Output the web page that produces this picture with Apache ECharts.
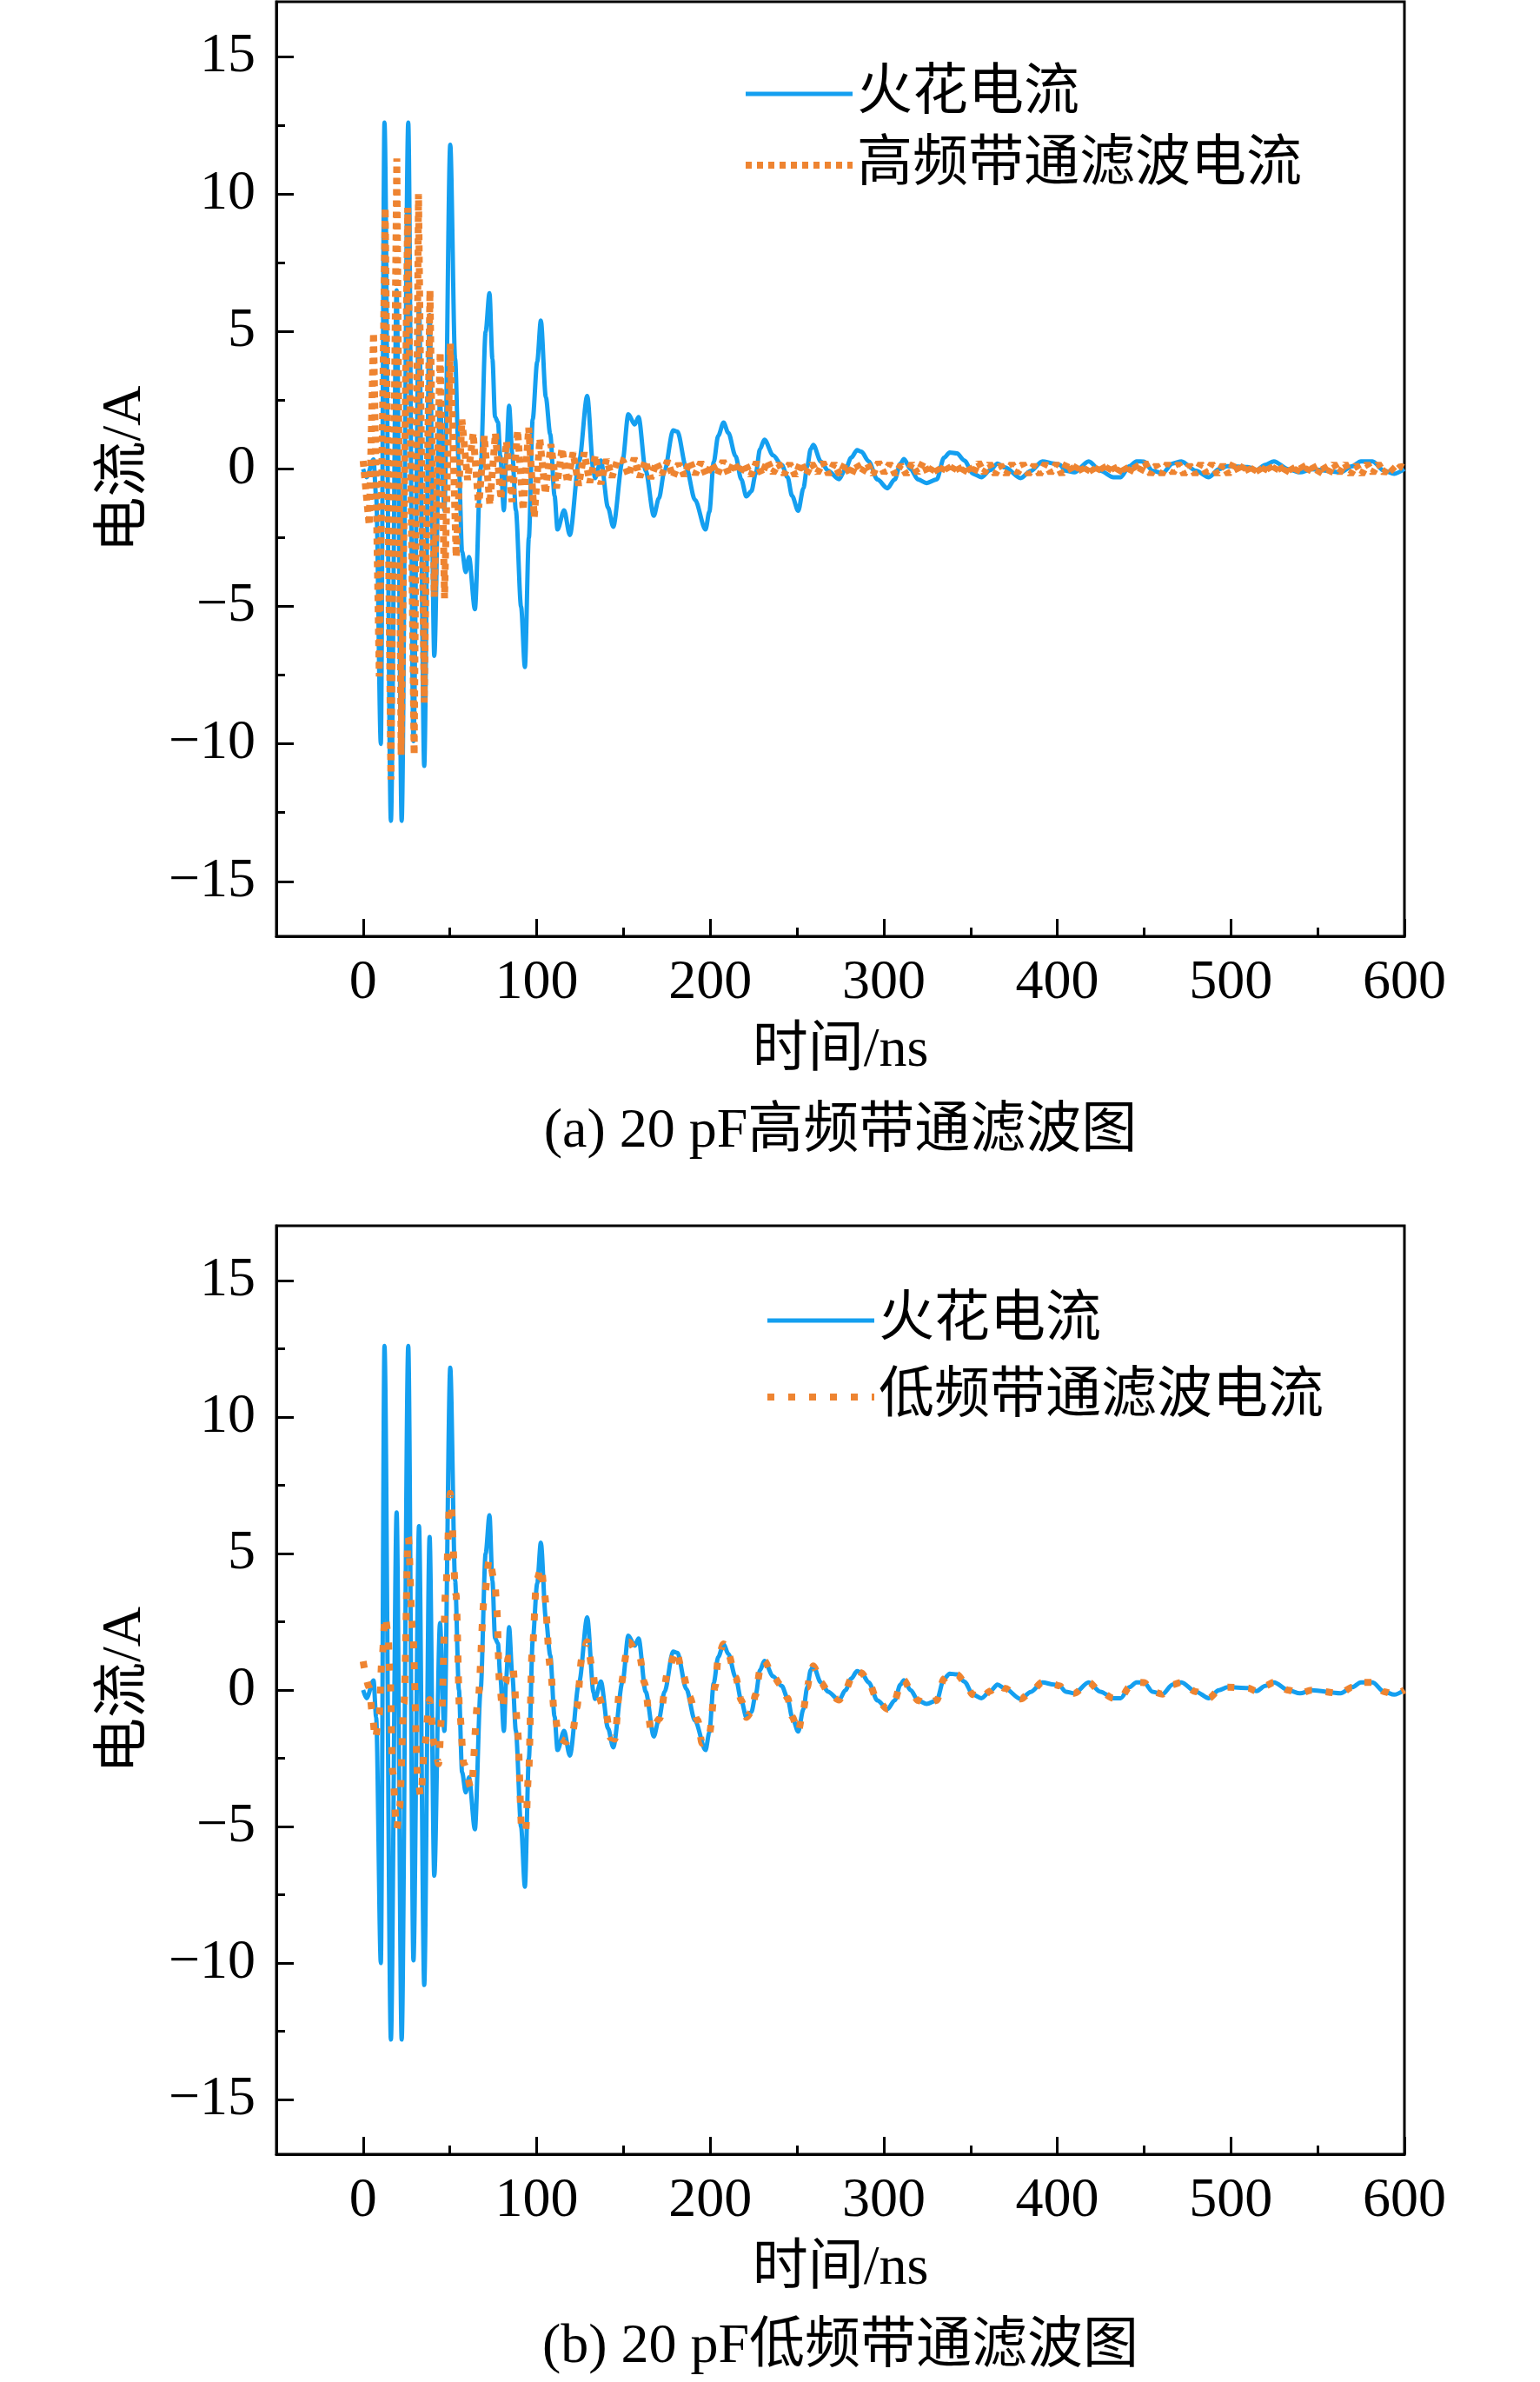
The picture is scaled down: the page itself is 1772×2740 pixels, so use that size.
<!DOCTYPE html>
<html>
<head>
<meta charset="utf-8">
<script src="https://cdn.jsdelivr.net/npm/echarts@6/dist/echarts.min.js"></script>
<style>
  html, body { margin: 0; padding: 0; background: #fff; }
  #main { width: 1772px; height: 2740px; }
</style>
</head>
<body>
<div id="main"></div>
<script>
// 火花电流 (时间 ns, 电流 A)
var sparkT = [0, 2, 6, 7.5, 10.2, 12.3, 16, 19.3, 22.2, 26, 29, 32.2, 35.2, 38.3, 41, 44.3, 46.8, 50.2,
  53, 55.2, 57, 59.1, 61, 64.4, 67.7, 70.6, 72.8, 74.5, 76, 77.7, 79, 81.1, 82.5, 84.1, 86, 88, 91, 93.2,
  95.5, 97.7, 100.3, 102.4, 105.3, 107.8, 110.3, 112, 115.8, 119.1, 124.5, 129.1, 132.8, 133.6, 137,
  141.1, 144.1, 149.5, 152.8, 156.5, 158.7, 162.8, 167.5, 170.4, 173.7, 178.6, 181.1, 186.2, 191.2,
  197.3, 199.5, 202, 204.6, 207.7, 210.4, 214.6, 217.9, 220.8, 223.7, 226.2, 228.7, 231.2, 236.2,
  241.2, 244.6, 247.1, 250.7, 253.7, 255.9, 257.9, 259.4, 263.7, 267.9, 274.2, 277.9, 281.3, 284.6,
  287.1, 291.3, 296.3, 302.1, 306.3, 309.6, 311.6, 315.5, 319.7, 324.7, 330.5, 334.7, 338, 342.2,
  346.4, 351.4, 356.2, 361.4, 365.5, 369.7, 378.9, 384.7, 391.4, 398.1, 401.4, 404.8, 409.8, 418.1,
  424.8, 432.3, 436.5, 441.5, 445.6, 450, 454.8, 460.6, 466.4, 471.5, 479.8, 487.3, 493.1, 498.1,
  509.8, 514.8, 519.8, 524.8, 533.2, 539.8, 546.5, 563.2, 569.9, 574.9, 581.6, 588.3, 594.1, 600];
var sparkV = [0, -0.3, 0.35, -1, -10, 12.6, -12.8, 6.5, -12.8, 12.6, -9.9, 6, -10.8, 5.6, -6.8, 2.45, -1.5, 11.8,
  4, 0, -3, -3.75, -3.2, -5.1, 0, 5, 6.4, 4, 1.9, 1.7, 0.5, -1.5, 0.5, 2.3, 0.5, -1.5, -5, -7.2,
  -2.5, 1.8, 3.9, 5.4, 2.6, 1.27, -0.97, -2.2, -1.5, -2.4, 0.3, 2.66, -0.1, -0.33, 0.31,
  -1.4, -2.1, 0.3, 1.99, 1.62, 1.89, -0.06, -1.7, -1.07, -0.06, 1.41, 1.36, 0.04, -1.12,
  -2.2, -1.55, 0.25, 1.21, 1.69, 1.32, 0.47, -0.38, -1, -0.81, -0.17, 0.73, 1.07, 0.5,
  0.15, -0.3, -0.97, -1.52, -0.7, 0.1, 0.73, 0.88, 0.28, -0.06, -0.37, -0.01, 0.42, 0.69,
  0.63, 0.28, -0.38, -0.7, -0.38, 0.2, 0.36, -0.01, -0.38, -0.51, -0.38, 0.41, 0.6, 0.57,
  0.31, -0.17, -0.3, -0.04, 0.2, 0.06, -0.33, -0.07, 0.28, 0.2, 0.15, -0.06, -0.12, 0.28,
  -0.06, -0.3, -0.3, 0.1, 0.28, 0.27, -0.06, -0.15, 0.2, 0.28, -0.06, -0.3, -0.01, 0.1,
  0.07, -0.04, 0.15, 0.28, -0.01, -0.12, -0.01, -0.12, 0.1, 0.28, 0.28, -0.06, -0.17, 0];

// 高频带通滤波电流: 峰谷点
var hfT = [0, 3.5, 6, 9.3, 12.7, 16, 19.4, 21.9, 25.7, 29.4, 31.9, 35.2, 38.5, 41, 44.4, 46.9, 50.2, 53.6,
  56.9, 60.2, 63.4, 66.6, 69.8, 73, 76.2, 79.4, 82.6, 85.8, 89, 92.2, 95.4, 98.6, 101.8, 105, 108.2,
  111.4, 114.6, 117.8, 121, 124.2, 127.4, 130.6, 133.8, 137, 140.2, 143.4, 146.6];
var hfV = [0.3, -2.05, 4.96, -7.55, 9.5, -11.3, 11.3, -10.4, 9.5, -10.4, 10, -8.5, 6.5, -4.65, 4.25, -4.7, 4.56, -3.2,
  1.8, -0.4, 1.3, -1.4, 1.2, -1.3, 1.3, -1.1, 1, -1.2, 1.4, -1.5, 1.5, -1.75, 1.1, -0.9, 0.9,
  -0.7, 0.75, -0.5, 0.6, -0.6, 0.6, -0.5, 0.5, -0.55, 0.35, -0.3, 0.35];
// 尾段 (从 149.8 ns 起, 每 3.2 ns 一个峰/谷)
var hfTailStart = 149.8, hfTailStep = 3.2;
var hfTailV = [0.3, -0.25, 0.4, -0.3, 0.3, -0.35, 0.25, -0.2, 0.3, -0.3, 0.2, -0.25, 0.3, -0.2, 0.25, -0.25,
  0.2, -0.2, 0.3, -0.2, 0.25, -0.15, 0.2, -0.25, 0.25, -0.2, 0.3, -0.15, 0.2, -0.2, 0.2, -0.25, 0.25, -0.2,
  0.2, -0.15, 0.25, -0.2, 0.2, -0.2, 0.2, -0.25, 0.2, -0.15, 0.2, -0.2, 0.25,
  -0.15, 0.2, -0.2, 0.15, -0.2, 0.2, -0.15, 0.25, -0.2, 0.15, -0.2, 0.2, -0.15, 0.2, -0.2, 0.15, -0.2, 0.25,
  -0.15, 0.2, -0.2, 0.15, -0.2, 0.2, -0.15, 0.2, -0.2, 0.15, -0.2, 0.2, -0.15, 0.2, -0.2, 0.25, -0.15, 0.2,
  -0.2, 0.15, -0.2, 0.2, -0.15, 0.2, -0.2, 0.15, -0.2, 0.2, -0.15, 0.25, -0.2, 0.15, -0.2, 0.2, -0.15, 0.2,
  -0.2, 0.15, -0.2, 0.2, -0.15, 0.2, -0.2, 0.15, -0.2, 0.25, -0.15, 0.2, -0.2, 0.15, -0.2, 0.2, -0.15, 0.2,
  -0.2, 0.15, -0.2, 0.2, -0.15, 0.2, -0.2, 0.15, -0.2, 0.2, -0.15, 0.2, -0.2, 0.15, -0.2, 0.2, -0.15, 0.2,
  -0.15, 0.1, -0.1, 0.1, 0];

// 低频带通滤波电流 (205 ns 之后与火花电流重合)
var lfT = [0, 3.5, 5.2, 7, 9.3, 10.7, 12.7, 14.3, 15.5, 17, 19.3, 21, 23.5, 26, 28.5, 31.5, 33.2, 35.5,
  38.2, 41, 43.5, 45.2, 47.5, 50.2, 53.5, 55.7, 58, 62.3, 66, 70, 72.7, 76, 77, 78.6, 80.3, 82.2, 83.5,
  86, 87.3, 88, 89, 91.4, 93.6, 95.3, 97.4, 100, 102.7, 104.4, 107.8, 110.3, 113, 117, 120.8, 123.1,
  126, 129.1, 131.9, 134, 139.9, 142.5, 145, 147.8, 153.1, 159.5, 162, 166.1, 170.8, 175.7, 180.3,
  184.4, 187.8, 192.8, 195.3, 199.5, 202.9, 204.6];
var lfV = [1.05, 0.1, -0.8, -1.8, -0.9, 1, 2.7, 2.1, 0.5, -3, -5.1, -4.3, -0.5, 5.6, 2.2, -3.2, -3.9, -2,
  -0.35, -2, -2.7, -1, 3.6, 7.2, 3.5, -0.9, -2.7, -3.6, -0.5, 3.5, 4.8, 3.86, 2.96, 0.26, -0.7, 0.26, 1.16,
  1.16, 0.26, -0.65, -1.5, -5.1, -5.2, -3.1, 1.4, 4.05, 4.5, 3.55, 0.86, -0.9, -1.77, -1.9, -1.5, -0.65,
  1.16, 1.77, 0.86, 0, -0.84, -1.74, -1.8, 0, 1.76, 1.18, 0.28, -1.5, -1.05, 0.7, 1.45,
  0.55, -0.22, -1.1, -1.95, -1.6, 0.14, 1.21];

var xMajor = [0, 100, 200, 300, 400, 500, 600];
var xMinor = [50, 150, 250, 350, 450, 550];
var yMajor = [-15, -10, -5, 0, 5, 10, 15];
var yMinor = [-12.5, -7.5, -2.5, 2.5, 7.5, 12.5];

var sparkData = sparkT.map(function (t, i) { return [t, sparkV[i]] });
var hfData = hfT.map(function (t, i) { return [t, hfV[i]] });
hfTailV.forEach(function (v, i) { hfData.push([hfTailStart + i * hfTailStep, v]) });
var lfData = lfT.map(function (t, i) { return [t, lfV[i]] });
sparkData.forEach(function (p) { if (p[0] > 205) lfData.push(p) });

var FONT = "'Liberation Serif', 'Noto Sans CJK SC', serif";
var BLUE = '#149ff0';
var ORANGE = '#ee8431';

function fmt(v) {
  return v < 0 ? '\u2212' + (-v) : String(v);
}

function mainX(gi) {
  return {
    type: 'value', gridIndex: gi, min: -50, max: 600,
    name: '时间/ns', nameLocation: 'middle', nameGap: 100,
    nameTextStyle: { fontSize: 64, fontFamily: FONT, color: '#000' },
    axisLine: { show: true, onZero: false, lineStyle: { color: '#000', width: 3 } },
    axisTick: { show: true, inside: true, length: 20, customValues: xMajor, lineStyle: { color: '#000', width: 3 } },
    axisLabel: { show: true, margin: 22, fontSize: 64, fontFamily: FONT, color: '#000', customValues: xMajor },
    splitLine: { show: false },
  }
}
function minorX(gi) {
  return {
    type: 'value', gridIndex: gi, min: -50, max: 600, position: 'bottom',
    axisLine: { show: false, onZero: false },
    axisTick: { show: true, inside: true, length: 10, customValues: xMinor, lineStyle: { color: '#000', width: 3 } },
    axisLabel: { show: false },
    splitLine: { show: false },
  }
}
function mainY(gi) {
  return {
    type: 'value', gridIndex: gi, min: -17, max: 17,
    name: '电流/A', nameLocation: 'middle', nameGap: 142, nameRotate: 90,
    nameTextStyle: { fontSize: 64, fontFamily: FONT, color: '#000' },
    axisLine: { show: true, onZero: false, lineStyle: { color: '#000', width: 3 } },
    axisTick: { show: true, inside: true, length: 20, customValues: yMajor, lineStyle: { color: '#000', width: 3 } },
    axisLabel: { show: true, margin: 24, fontSize: 64, fontFamily: FONT, color: '#000', customValues: yMajor, formatter: fmt },
    splitLine: { show: false },
  }
}
function minorY(gi) {
  return {
    type: 'value', gridIndex: gi, min: -17, max: 17, position: 'left',
    axisLine: { show: false, onZero: false },
    axisTick: { show: true, inside: true, length: 10, customValues: yMinor, lineStyle: { color: '#000', width: 3 } },
    axisLabel: { show: false },
    splitLine: { show: false },
  }
}

var legendText = { fontSize: 64, fontFamily: FONT, color: '#000', lineHeight: 64 };

var option = {
  animation: false,
  backgroundColor: '#fff',
  grid: [
    { left: 318, top: 2, width: 1298, height: 1075, show: true, borderColor: '#000', borderWidth: 3, containLabel: false },
    { left: 318, top: 1410, width: 1298, height: 1068, show: true, borderColor: '#000', borderWidth: 3, containLabel: false },
  ],
  xAxis: [mainX(0), minorX(0), mainX(1), minorX(1)],
  yAxis: [mainY(0), minorY(0), mainY(1), minorY(1)],
  legend: [
    {
      data: ['火花电流', '高频带通滤波电流'], orient: 'vertical', left: 849, top: 71,
      itemWidth: 123, itemHeight: 20, itemGap: 18, textStyle: legendText,
      itemStyle: { opacity: 0 }, lineStyle: { width: 'inherit' },
    },
    {
      data: ['火花电流', '低频带通滤波电流'], orient: 'vertical', left: 874, top: 1482,
      itemWidth: 123, itemHeight: 20, itemGap: 24, textStyle: legendText,
      itemStyle: { opacity: 0 }, lineStyle: { width: 'inherit' },
    },
  ],
  series: [
    {
      name: '火花电流', type: 'line', xAxisIndex: 0, yAxisIndex: 0, data: sparkData,
      symbol: 'none', smooth: 0.3, smoothMonotone: 'x', z: 2,
      lineStyle: { color: BLUE, width: 5 }, itemStyle: { color: BLUE },
    },
    {
      name: '高频带通滤波电流', type: 'line', xAxisIndex: 0, yAxisIndex: 0, data: hfData,
      symbol: 'none', z: 3,
      lineStyle: { color: ORANGE, width: 8, type: [7, 6], cap: 'butt' }, itemStyle: { color: ORANGE },
    },
    {
      name: '火花电流', type: 'line', xAxisIndex: 2, yAxisIndex: 2, data: sparkData,
      symbol: 'none', smooth: 0.3, smoothMonotone: 'x', z: 2,
      lineStyle: { color: BLUE, width: 5 }, itemStyle: { color: BLUE },
    },
    {
      name: '低频带通滤波电流', type: 'line', xAxisIndex: 2, yAxisIndex: 2, data: lfData,
      symbol: 'none', smooth: 0.3, smoothMonotone: 'x', z: 3,
      lineStyle: { color: ORANGE, width: 8, type: [8, 16], cap: 'butt' }, itemStyle: { color: ORANGE },
    },
  ],
  graphic: [
    {
      type: 'text', x: 967, y: 1302,
      style: { text: '(a) 20 pF高频带通滤波图', fontSize: 64, fontFamily: FONT, fill: '#000', align: 'center', verticalAlign: 'middle' },
    },
    {
      type: 'text', x: 967, y: 2700,
      style: { text: '(b) 20 pF低频带通滤波图', fontSize: 64, fontFamily: FONT, fill: '#000', align: 'center', verticalAlign: 'middle' },
    },
  ],
}

var myChart = echarts.init(document.getElementById('main'))
option && myChart.setOption(option)
</script>
</body>
</html>
